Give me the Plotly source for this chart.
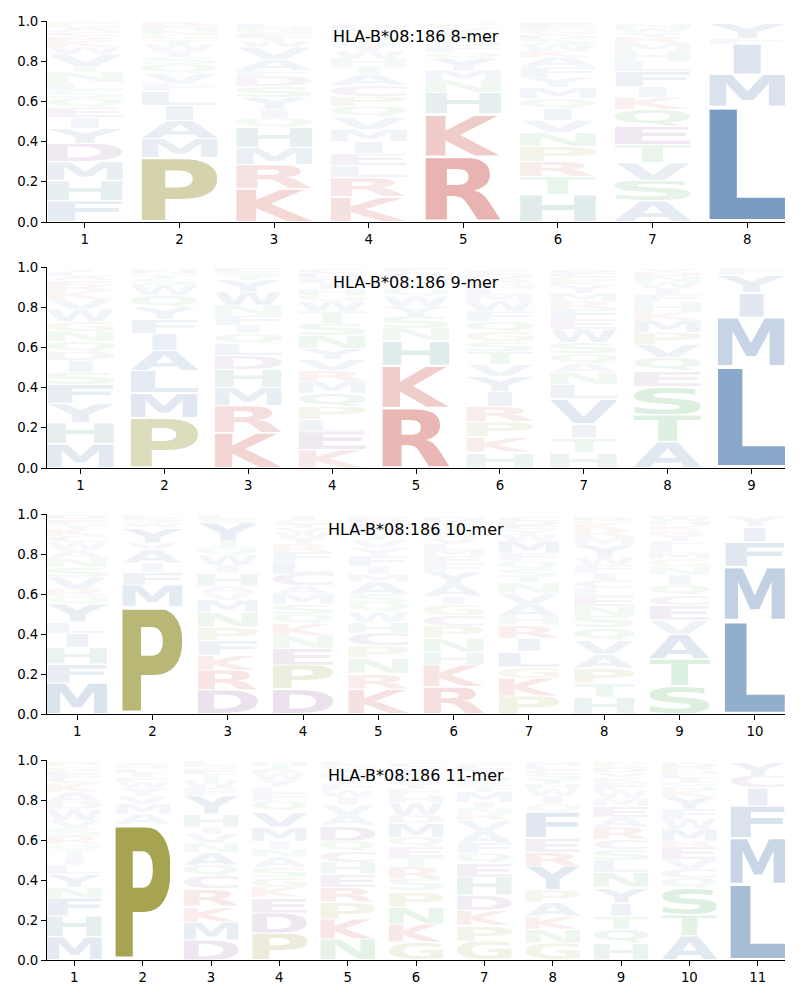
import base64
import glob
import struct

import plotly.graph_objects as go

# ---------------------------------------------------------------- data
ALLELE = "HLA-B*08:186"
peptide_lengths = [8, 9, 10, 11]

# letters of each position, stacked bottom -> top, with their heights (probabilities)
mer8_letters = [
    "FHMDYIEQSLNTVWKRCAGP",
    "PMAILFVQSYWTGNHER",
    "KRMHQIYSDFAVWTEGNL",
    "KRLEIMVQPCATHWYSNGFD",
    "RKHNMYQFSTAVPG",
    "HTRPNVIQMYFAKWSDGLE",
    "ASVTEQKIFLHMRYWN",
    "LMIFY",
]
mer8_heights = [
    [.105, .10, .095, .09, .075, .055, .05, .045, .04, .04, .05, .03, .06, .035, .03, .025, .02, .02, .015, .015],
    [.32, .095, .09, .075, .07, .04, .05, .045, .035, .035, .03, .025, .02, .02, .015, .015, .015],
    [.165, .12, .085, .10, .045, .045, .06, .055, .05, .03, .055, .06, .03, .02, .02, .015, .015, .015],
    [.125, .095, .06, .06, .06, .06, .06, .055, .05, .055, .055, .04, .04, .035, .03, .025, .025, .02, .015, .015],
    [.325, .215, .105, .06, .05, .06, .03, .03, .03, .025, .02, .02, .015, .01],
    [.135, .09, .075, .075, .07, .06, .06, .05, .055, .05, .05, .05, .03, .03, .03, .025, .02, .015, .02],
    [.105, .10, .09, .09, .09, .085, .06, .055, .075, .05, .05, .04, .03, .025, .02, .02],
    [.575, .16, .15, .03, .08],
]

mer9_letters = [
    "MHYFSIDQNGWVKREALT",
    "PMLAIFYQWSTNH",
    "KRMHDLQIFNWYTSE",
    "KELPQMRVYNSTWGHIFDC",
    "RKHNSYWQTMAF",
    "HKPRIYVTSGQFWMLNEADC",
    "HTIVLNAQSWEFRMYKGCD",
    "ATSEQVPMKHFIWNDY",
    "LMIYF",
]
mer9_heights = [
    [.12, .105, .095, .095, .06, .06, .045, .05, .05, .05, .06, .05, .04, .03, .025, .02, .02, .015],
    [.25, .125, .11, .10, .085, .07, .06, .06, .05, .03, .025, .02, .01],
    [.175, .135, .09, .09, .07, .06, .05, .04, .05, .05, .065, .06, .02, .02, .02],
    [.09, .09, .06, .065, .065, .06, .055, .055, .055, .065, .06, .06, .05, .03, .03, .03, .03, .02, .02],
    [.30, .21, .125, .06, .06, .05, .05, .04, .03, .03, .02, .02],
    [.08, .075, .075, .075, .075, .075, .06, .065, .05, .05, .05, .05, .05, .03, .03, .02, .02, .015, .02, .02],
    [.08, .07, .07, .125, .07, .06, .045, .05, .055, .065, .05, .05, .04, .04, .04, .02, .02, .02, .015],
    [.13, .135, .14, .08, .065, .065, .06, .06, .04, .05, .04, .03, .03, .03, .02, .015],
    [.505, .245, .125, .085, .035],
]

mer10_letters = [
    "MFHILYQRVSNAWCKTED",
    "PMFIAVYWSL",
    "DRKFPNMVAHIWQTYSL",
    "DPENKQSMACLFRYWVTGI",
    "KRNPCHWQSAMIFYVTELDG",
    "RKHNPCGIAYFEMLVQSTWD",
    "PKGLIRHAVNTSQFMWYEDC",
    "HTPAVQSNELCIFWYMRKGD",
    "STAVECQINGMLFYRKHWD",
    "LMFIY",
]
mer10_heights = [
    [.155, .095, .085, .07, .055, .09, .04, .035, .06, .05, .045, .04, .04, .03, .035, .025, .025, .02],
    [.535, .11, .065, .045, .07, .03, .08, .025, .02, .015],
    [.12, .10, .075, .075, .065, .075, .06, .035, .035, .065, .04, .05, .04, .03, .09, .02, .02],
    [.125, .12, .085, .06, .06, .05, .05, .05, .04, .06, .06, .05, .04, .03, .03, .02, .02, .02, .02],
    [.125, .08, .075, .06, .065, .055, .05, .045, .045, .06, .04, .04, .05, .04, .04, .035, .025, .025, .02, .015],
    [.135, .11, .065, .07, .06, .055, .055, .04, .06, .06, .04, .04, .03, .03, .03, .025, .025, .02, .015, .02],
    [.09, .09, .055, .08, .065, .065, .045, .06, .055, .05, .03, .04, .04, .04, .06, .035, .025, .02, .02, .02],
    [.085, .07, .075, .07, .07, .06, .06, .05, .05, .04, .04, .035, .04, .04, .06, .04, .035, .03, .02, .015],
    [.14, .135, .125, .07, .075, .05, .05, .05, .04, .04, .03, .03, .03, .03, .025, .025, .02, .02, .005],
    [.47, .265, .125, .08, .05],
]

mer11_letters = [
    "MHFNYLITQRSVWDAKCEGP",
    "PAMVYWFILQS",
    "DMKRCQANVIHYFWTESL",
    "PDEKGSANIMVQFLYWRTH",
    "NKPREHCQDAVIWFYMTGL",
    "GKNPSRTEQMDWHFYALIVC",
    "GPKDHEQFAVRNIMTSWYLC",
    "GNKAPYREFQIWHTSCLM",
    "HQTIYNLSCRAEMWFKVDGP",
    "ATSQCVERMWFYKNGILHPD",
    "LMFICY",
]
mer11_heights = [
    [.115, .105, .09, .055, .065, .045, .04, .035, .03, .04, .04, .04, .055, .04, .045, .045, .03, .03, .025, .02],
    [.68, .05, .05, .04, .04, .03, .025, .02, .02, .015, .015],
    [.10, .09, .08, .085, .065, .055, .065, .045, .045, .035, .065, .09, .04, .04, .03, .025, .02, .02],
    [.135, .10, .08, .05, .05, .05, .05, .04, .04, .07, .08, .05, .04, .03, .035, .035, .02, .02, .015],
    [.105, .10, .085, .075, .065, .06, .055, .05, .08, .05, .05, .04, .035, .03, .03, .025, .02, .02, .015],
    [.09, .09, .085, .08, .06, .06, .05, .05, .05, .07, .04, .06, .04, .03, .03, .02, .02, .015, .025, .02],
    [.095, .08, .075, .075, .09, .07, .05, .05, .06, .055, .03, .03, .03, .05, .025, .025, .025, .04, .015, .015],
    [.085, .07, .065, .07, .06, .12, .07, .07, .13, .04, .04, .04, .02, .02, .03, .02, .02, .02],
    [.085, .07, .065, .065, .08, .075, .06, .055, .05, .06, .05, .055, .04, .04, .04, .025, .025, .02, .015, .015],
    [.12, .105, .135, .05, .045, .05, .06, .03, .06, .05, .05, .06, .03, .025, .02, .02, .02, .015, .02, .02],
    [.38, .23, .16, .09, .06, .07],
]

logo_data = {
    8: (mer8_letters, mer8_heights),
    9: (mer9_letters, mer9_heights),
    10: (mer10_letters, mer10_heights),
    11: (mer11_letters, mer11_heights),
}

y_tick_values = [0.0, 0.2, 0.4, 0.6, 0.8, 1.0]
y_tick_labels = ["0.0", "0.2", "0.4", "0.6", "0.8", "1.0"]

# ---------------------------------------------------------------- styling
GROUP_COLORS = {
    "AVLIMFWY": (26, 84, 150),
    "KR": (185, 25, 15),
    "PG": (125, 122, 0),
    "DEC": (100, 30, 120),
    "H": (30, 115, 115),
    "STNQ": (20, 150, 40),
}
LETTER_COLOR = {ch: rgb for grp, rgb in GROUP_COLORS.items() for ch in grp}
COLUMN_WIDTH = 0.8
VPAD = 0.05
ALPHA_MIN = 0.04
FONT = "DejaVu Sans"

# approximate DejaVu Sans Bold glyph boxes (units per em = 1000), used if the font file is not found
APPROX_BOXES = {
    "A": (3, 0, 771, 729), "C": (45, -14, 668, 743), "D": (92, 0, 775, 729), "E": (92, 0, 621, 729),
    "F": (92, 0, 617, 729), "G": (45, -14, 758, 743), "H": (92, 0, 745, 729), "I": (92, 0, 280, 729),
    "K": (92, 0, 775, 729), "L": (92, 0, 620, 729), "M": (92, 0, 903, 729), "N": (92, 0, 745, 729),
    "P": (92, 0, 690, 729), "Q": (45, -176, 805, 743), "R": (92, 0, 755, 729), "S": (55, -14, 665, 743),
    "T": (5, 0, 677, 729), "V": (3, 0, 771, 729), "W": (19, 0, 1084, 729), "Y": (3, 0, 721, 729),
}


def font_boxes(chars):
    paths = []
    for pat in ("/usr/share/fonts/**/DejaVuSans-Bold.ttf", "/usr/local/share/fonts/**/DejaVuSans-Bold.ttf",
                "/usr/**/DejaVuSans-Bold.ttf"):
        paths += glob.glob(pat, recursive=True)
        if paths:
            break
    if not paths:
        return 1000, APPROX_BOXES
    try:
        d = open(paths[0], "rb").read()
        n = struct.unpack(">H", d[4:6])[0]
        T = {}
        for i in range(n):
            tag, _, off, _ = struct.unpack(">4sIII", d[12 + 16 * i:28 + 16 * i])
            T[tag.decode("latin1")] = off
        head = T["head"]
        upm = struct.unpack(">H", d[head + 18:head + 20])[0]
        locfmt = struct.unpack(">h", d[head + 50:head + 52])[0]
        cm = T["cmap"]
        nsub = struct.unpack(">H", d[cm + 2:cm + 4])[0]
        sub = None
        for i in range(nsub):
            pid, eid, off = struct.unpack(">HHI", d[cm + 4 + 8 * i:cm + 12 + 8 * i])
            fmt = struct.unpack(">H", d[cm + off:cm + off + 2])[0]
            if pid == 3 and eid == 1 and fmt == 4:
                sub = cm + off
        segx2 = struct.unpack(">H", d[sub + 6:sub + 8])[0]
        seg = segx2 // 2
        ends = struct.unpack(">%dH" % seg, d[sub + 14:sub + 14 + segx2])
        so = sub + 16 + segx2
        starts = struct.unpack(">%dH" % seg, d[so:so + segx2])
        do = so + segx2
        deltas = struct.unpack(">%dh" % seg, d[do:do + segx2])
        ro = do + segx2
        ros = struct.unpack(">%dH" % seg, d[ro:ro + segx2])

        def gid(c):
            code = ord(c)
            for i in range(seg):
                if starts[i] <= code <= ends[i]:
                    if ros[i] == 0:
                        return (code + deltas[i]) & 0xFFFF
                    addr = ro + 2 * i + ros[i] + 2 * (code - starts[i])
                    g = struct.unpack(">H", d[addr:addr + 2])[0]
                    return (g + deltas[i]) & 0xFFFF if g else 0
            return 0

        loca, glyf = T["loca"], T["glyf"]

        def loc(g):
            if locfmt == 0:
                return 2 * struct.unpack(">H", d[loca + 2 * g:loca + 2 * g + 2])[0]
            return struct.unpack(">I", d[loca + 4 * g:loca + 4 * g + 4])[0]

        out = {}
        for c in chars:
            o = glyf + loc(gid(c))
            _, x0, y0, x1, y1 = struct.unpack(">hhhhh", d[o:o + 10])
            out[c] = (x0, y0, x1, y1)
        return upm, out
    except Exception:
        return 1000, APPROX_BOXES


ALPHABET = "ACDEFGHIKLMNPQRSTVWY"
UPM, BOXES = font_boxes(ALPHABET)


def glyph_source(ch):
    x0, y0, x1, y1 = BOXES[ch]
    r, g, b = LETTER_COLOR[ch]
    svg = ('<svg xmlns="http://www.w3.org/2000/svg" width="%d" height="%d" viewBox="%d %d %d %d" '
           'preserveAspectRatio="none"><text x="0" y="0" font-family="%s" font-weight="bold" '
           'font-size="%d" fill="rgb(%d,%d,%d)">%s</text></svg>'
           % (x1 - x0, y1 - y0, x0, -y1, x1 - x0, y1 - y0, FONT, UPM, r, g, b, ch))
    return "data:image/svg+xml;base64," + base64.b64encode(svg.encode()).decode()


SOURCES = {ch: glyph_source(ch) for ch in ALPHABET}
E_WIDTH = BOXES["E"][2] - BOXES["E"][0]

# ---------------------------------------------------------------- figure
fig = go.Figure()
x_domain = [47 / 800, 785 / 800]
y_domains = [[0.778, 0.979], [0.532, 0.733], [0.286, 0.486], [0.040, 0.240]]

images = []
annotations = []
axis_style = dict(showline=True, linecolor="black", linewidth=1, ticks="outside", ticklen=5,
                  tickwidth=1, tickcolor="black", showgrid=False, zeroline=False, automargin=False,
                  tickfont=dict(family=FONT, size=13.3, color="black"), fixedrange=True)

for k, L in enumerate(peptide_lengths):
    sfx = "" if k == 0 else str(k + 1)
    letters, heights = logo_data[L]
    positions = list(range(1, L + 1))
    fig.add_trace(go.Scatter(x=positions, y=[0] * L, mode="markers", marker=dict(opacity=0),
                             hoverinfo="skip", showlegend=False, xaxis="x" + sfx, yaxis="y" + sfx))
    for pos, seq, hs in zip(positions, letters, heights):
        floor = 0.0
        for ch, h in zip(seq, hs):
            bw = BOXES[ch][2] - BOXES[ch][0]
            w = COLUMN_WIDTH * min(1.0, bw / E_WIDTH)
            images.append(dict(
                source=SOURCES[ch], xref="x" + sfx, yref="y" + sfx,
                x=pos - w / 2, y=floor + h - h * VPAD / 2,
                sizex=w, sizey=h * (1 - VPAD),
                xanchor="left", yanchor="top", sizing="stretch",
                opacity=max(h, ALPHA_MIN), layer="below"))
            floor += h
    fig.update_layout({
        "xaxis" + sfx: dict(axis_style, domain=x_domain, anchor="y" + sfx, range=[0.6, L + 0.4],
                            tickvals=positions, ticktext=[str(p) for p in positions]),
        "yaxis" + sfx: dict(axis_style, domain=y_domains[k], anchor="x" + sfx, range=[0, 1],
                            tickvals=y_tick_values, ticktext=y_tick_labels),
    })
    annotations.append(dict(text="%s %d-mer" % (ALLELE, L), xref="x%s domain" % sfx, yref="y%s domain" % sfx,
                            x=0.5, y=0.925, xanchor="center", yanchor="middle", showarrow=False,
                            font=dict(family=FONT, size=16, color="black")))

fig.update_layout(width=800, height=1000, margin=dict(l=0, r=0, t=0, b=0),
                  paper_bgcolor="white", plot_bgcolor="white",
                  images=images, annotations=annotations, showlegend=False)

fig.write_html("out.html")
